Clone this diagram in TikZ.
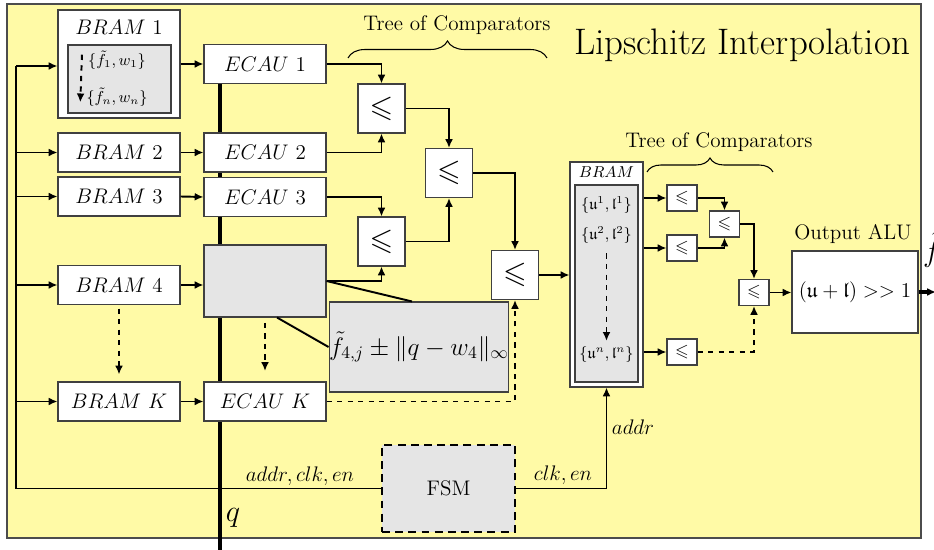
\documentclass[tikz,border=0pt]{standalone}
\usepackage{amsmath}
\usepackage{amssymb}
\usetikzlibrary{arrows.meta,positioning,calc,decorations.pathreplacing}

\begin{document}
\begin{tikzpicture}[x=0.02cm,y=-0.02cm,>={Latex[length=5pt,width=4.5pt]},font=\large,
   box/.style={draw=black!75,line width=0.6pt,fill=white,inner sep=0pt,
     minimum width=2.44cm,minimum height=0.78cm},
   graybox/.style={box,fill=gray!20},
   cmp/.style={box,minimum width=0.94cm,minimum height=0.98cm,font=\LARGE},
   scmp/.style={box,minimum width=0.6cm,minimum height=0.52cm,font=\normalsize},
   wire/.style={line width=1.1pt},
   bus/.style={line width=2pt},
   brc/.style={line width=0.6pt,decorate}]
  \useasboundingbox (0,0) rectangle (934,550);
  \draw[draw=black!70,line width=0.8pt,fill=yellow!35] (7,4) rectangle (921,538);

  % q bus (drawn under the boxes)
  \coordinate (qtop) at (220,83);
  \coordinate (qbot) at (220,552);
  \draw[bus] (qtop) -- (qbot);
  \node[font=\LARGE] (lq) at (233,518) {$q$};

  % BRAMs
  \node[box,minimum height=2.16cm] (bram1) at (119,64) {};
  \node (bram1t) at (119,27) {$BRAM~1$};
  \node[graybox,minimum width=2.06cm,minimum height=1.36cm] (bram1m) at (119.5,79) {};
  \node[font=\small] (f1) at (117,60) {$\{\tilde{f}_1,w_1\}$};
  \node[font=\small] (fn) at (117,97) {$\{\tilde{f}_n,w_n\}$};
  \draw[->,dashed,wire] ([yshift=3pt]f1.west) -- ([yshift=-3pt]fn.west);
  \node[box] (bram2) at (119,152.5) {$BRAM~2$};
  \node[box] (bram3) at (119,196.5) {$BRAM~3$};
  \node[box] (bram4) at (119,285) {$BRAM~4$};
  \node[box] (bramK) at (119,401.5) {$BRAM~K$};

  % ECAUs
  \node[box] (ecau1) at (265,64) {$ECAU~1$};
  \node[box] (ecau2) at (265,152.5) {$ECAU~2$};
  \node[box] (ecau3) at (265,197) {$ECAU~3$};
  \node[graybox,minimum height=1.44cm] (ecau4) at (265,281) {};
  \node[box] (ecauK) at (265,401.5) {$ECAU~K$};
  \draw[->,dashed,wire,shorten <=2pt,shorten >=4pt] (bram4.south) -- (bramK.north);
  \draw[->,dashed,wire,shorten <=3pt,shorten >=6pt] (ecau4.south) -- (ecauK.north);

  % input feed from the FSM
  \node[graybox,draw=black,line width=1.6pt,dash pattern=on 4.5pt off 3pt,
    minimum width=2.66cm,minimum height=1.74cm] (fsm) at (448.5,488.5) {FSM};
  \coordinate (feed) at (16,66);
  \draw[wire] (fsm.west) -| (feed);
  \node (lbus) at (300,476) {$addr,clk,en$};
  \draw[->,wire] (feed) -- (feed -| bram1.west);
  \draw[->,wire] (bram2.west -| feed) -- (bram2.west);
  \draw[->,wire] (bram3.west -| feed) -- (bram3.west);
  \draw[->,wire] (bram4.west -| feed) -- (bram4.west);
  \draw[->,wire] (bramK.west -| feed) -- (bramK.west);
  \draw[->,wire] (bram1.east |- ecau1.west) -- (ecau1.west);
  \draw[->,wire] (bram2.east) -- (ecau2.west);
  \draw[->,wire] (bram3.east) -- (ecau3.west);
  \draw[->,wire] (bram4.east) -- (ecau4.west |- bram4.east);
  \draw[->,wire] (bramK.east) -- (ecauK.west);

  % first tree of comparators
  \node[cmp] (cmp1) at (381.5,108.5) {$\leqslant$};
  \node[cmp] (cmp2) at (449,173) {$\leqslant$};
  \node[cmp] (cmp3) at (381.5,241.5) {$\leqslant$};
  \node[cmp] (cmp4) at (515,275) {$\leqslant$};
  \draw[->,wire] (ecau1.east) -| (cmp1.north);
  \draw[->,wire] (ecau2.east) -| (cmp1.south);
  \draw[->,wire] (cmp1.east) -| (cmp2.north);
  \draw[->,wire] (ecau3.east) -| (cmp3.north);
  \draw[->,wire] (ecau4.east) -| (cmp3.south);
  \draw[->,wire] (cmp3.east) -| (cmp2.south);
  \draw[->,wire] (cmp2.east) -| (cmp4.north);
  \draw[->,dashed,wire] (ecauK.east) -| (cmp4.south);
  \coordinate (br1a) at (348,58);
  \coordinate (br1b) at (547,58);
  \draw[brc,decoration={brace,amplitude=0.34cm}] (br1a) -- (br1b);
  \node (tc1) at (457,25) {Tree of Comparators};

  % zoom on ECAU 4
  \node[graybox,minimum width=3.56cm,minimum height=1.8cm,font=\Large] (zoom4) at (419,347)
    {$\tilde{f}_{4,j}\pm\|q-w_4\|_\infty$};
  \draw[wire] (ecau4.east) -- ([xshift=-0.14cm]zoom4.north);
  \draw[wire] ([xshift=0.24cm]ecau4.south) -- (zoom4.west);

  % BRAM of bounds
  \node[box,minimum width=1.46cm,minimum height=4.5cm] (bramR) at (606.5,274.5) {};
  \node[graybox,minimum width=1.26cm,minimum height=3.94cm] (bramRm) at (606.5,283.5) {};
  \node[font=\small] (bramRt) at (606.5,172) {$BRAM$};
  \node[font=\small] (u1) at (606.5,205) {$\{\mathfrak{u}^1,\mathfrak{l}^1\}$};
  \node[font=\small] (u2) at (606.5,235) {$\{\mathfrak{u}^2,\mathfrak{l}^2\}$};
  \node[font=\small] (un) at (606.5,355) {$\{\mathfrak{u}^n,\mathfrak{l}^n\}$};
  \draw[->,dashed,wire,shorten <=2pt] (u2.south) -- (un.north);
  \draw[->,wire] (cmp4.east) -- (cmp4.east -| bramR.west);
  \draw[->,wire] (fsm.east) -| (bramR.south);
  \node (lclk) at (563,475) {$clk,en$};
  \node (laddr) at (633,427) {$addr$};

  % second tree of comparators
  \node[scmp] (scmp1) at (682,198) {$\leqslant$};
  \node[scmp] (scmp2) at (682,248) {$\leqslant$};
  \node[scmp] (scmp3) at (724.5,224) {$\leqslant$};
  \node[scmp] (scmp4) at (754,292.5) {$\leqslant$};
  \node[scmp] (scmp5) at (682,352) {$\leqslant$};
  \draw[->,wire] (bramR.east |- scmp1) -- (scmp1.west);
  \draw[->,wire] (bramR.east |- scmp2) -- (scmp2.west);
  \draw[->,wire] (bramR.east |- scmp5) -- (scmp5.west);
  \draw[->,wire] (scmp1.east) -| (scmp3.north);
  \draw[->,wire] (scmp2.east) -| (scmp3.south);
  \draw[->,wire] (scmp3.east) -| (scmp4.north);
  \draw[->,dashed,wire] (scmp5.east) -| (scmp4.south);
  \coordinate (br2a) at (647,172);
  \coordinate (br2b) at (773,172);
  \draw[brc,decoration={brace,amplitude=0.28cm}] (br2a) -- (br2b);
  \node (tc2) at (719,142) {Tree of Comparators};

  % output
  \node (title) at (742,45) {\fontsize{21}{25}\selectfont Lipschitz Interpolation};
  \node[box,minimum width=2.52cm,minimum height=1.64cm] (alu) at (855,292)
    {$(\mathfrak{u}+\mathfrak{l}) >> 1$};
  \node (alut) at (853,234) {Output ALU};
  \draw[->,wire] (scmp4.east) -- (alu.west |- scmp4.east);
  \coordinate (fout) at (936,292);
  \draw[->,bus] (alu.east) -- (fout);
  \node[font=\LARGE,anchor=west] (ftil) at (917,250) {$\tilde{f}$};
\end{tikzpicture}
\end{document}
